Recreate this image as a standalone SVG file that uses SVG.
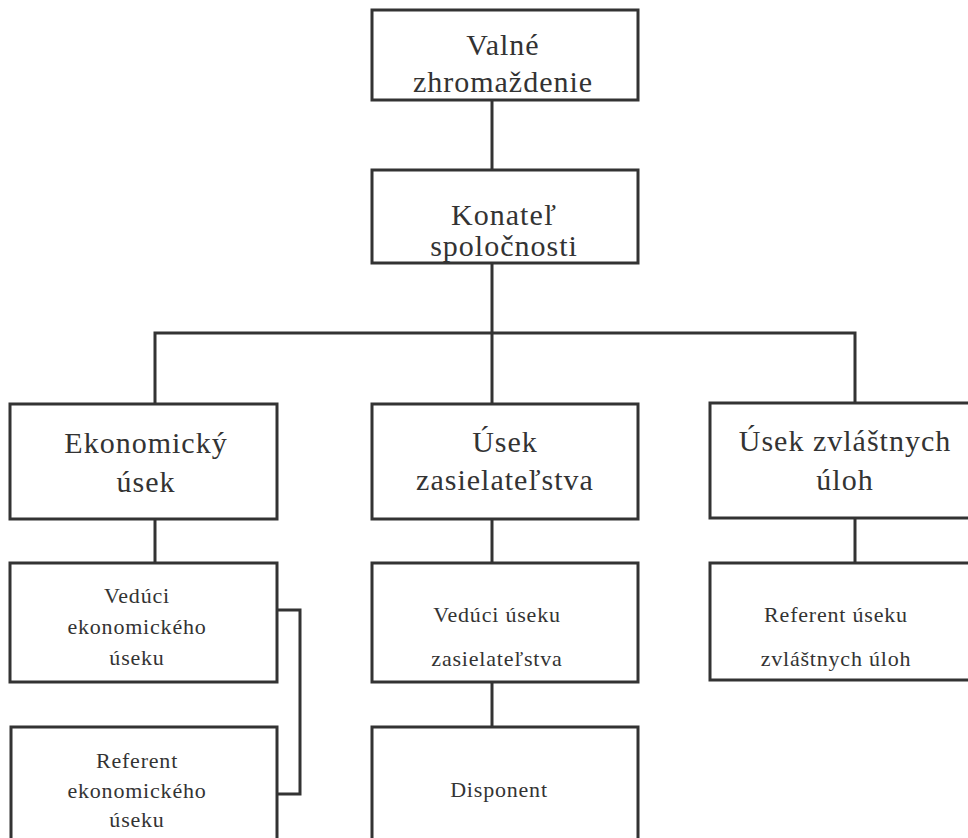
<svg xmlns="http://www.w3.org/2000/svg" width="968" height="838" viewBox="0 0 968 838">
<style>
.box{fill:#fff;stroke:#333;stroke-width:3}
.ln{fill:none;stroke:#333;stroke-width:3}
text{font-family:'Liberation Serif','Times New Roman',serif;fill:#333;text-anchor:middle}
.lg{font-size:30px;letter-spacing:1px}
.sm{font-size:22px;letter-spacing:0.8px}
</style>
<rect width="968" height="838" fill="#fff"/>
<g id="connectors">
<line class="ln" x1="492" y1="100" x2="492" y2="170"/>
<line class="ln" x1="492" y1="263" x2="492" y2="404"/>
<polyline class="ln" points="155,404 155,333 855,333 855,404"/>
<line class="ln" x1="155" y1="519" x2="155" y2="563"/>
<line class="ln" x1="492" y1="519" x2="492" y2="563"/>
<line class="ln" x1="855" y1="518" x2="855" y2="563"/>
<line class="ln" x1="492" y1="682" x2="492" y2="727"/>
<polyline class="ln" points="277,610 300,610 300,794 277,794"/>
</g>
<g id="n1"><rect class="box" x="372" y="10" width="266" height="90"/>
<text class="lg" x="503" y="55">Valné</text><text class="lg" x="503" y="92">zhromaždenie</text></g>
<g id="n2"><rect class="box" x="372" y="170" width="266" height="93"/>
<text class="lg" x="504" y="225">Konateľ</text><text class="lg" x="504" y="256">spoločnosti</text></g>
<g id="n3"><rect class="box" x="10" y="404" width="267" height="115"/>
<text class="lg" x="146" y="453">Ekonomický</text><text class="lg" x="146" y="492">úsek</text></g>
<g id="n4"><rect class="box" x="372" y="404" width="266" height="115"/>
<text class="lg" x="505" y="452">Úsek</text><text class="lg" x="505" y="490">zasielateľstva</text></g>
<g id="n5"><rect class="box" x="710" y="403" width="290" height="115"/>
<text class="lg" x="845" y="451">Úsek zvláštnych</text><text class="lg" x="845" y="490">úloh</text></g>
<g id="n6"><rect class="box" x="10" y="563" width="267" height="119"/>
<text class="sm" x="137" y="603">Vedúci</text><text class="sm" x="137" y="634">ekonomického</text><text class="sm" x="137" y="665">úseku</text></g>
<g id="n7"><rect class="box" x="372" y="563" width="266" height="119"/>
<text class="sm" x="497" y="622">Vedúci úseku</text><text class="sm" x="497" y="666">zasielateľstva</text></g>
<g id="n8"><rect class="box" x="710" y="563" width="290" height="117"/>
<text class="sm" x="836" y="622">Referent úseku</text><text class="sm" x="836" y="666">zvláštnych úloh</text></g>
<g id="n9"><rect class="box" x="11" y="727" width="266" height="130"/>
<text class="sm" x="137" y="768">Referent</text><text class="sm" x="137" y="798">ekonomického</text><text class="sm" x="137" y="827">úseku</text></g>
<g id="n10"><rect class="box" x="372" y="727" width="266" height="130"/>
<text class="sm" x="499" y="797">Disponent</text></g>
</svg>
